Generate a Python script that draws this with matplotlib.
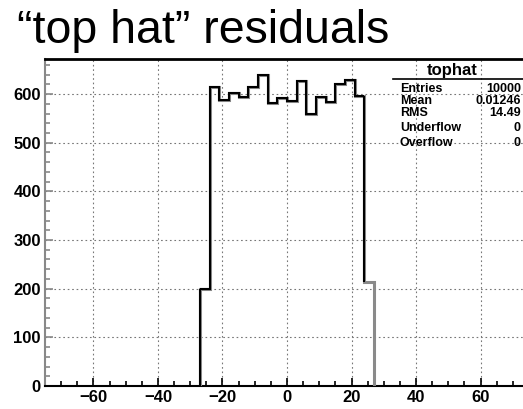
import numpy as np
import matplotlib
matplotlib.use('Agg')
import matplotlib.pyplot as plt
from matplotlib.ticker import MultipleLocator

plt.rcParams['font.family'] = ['Liberation Sans', 'DejaVu Sans']

# histogram: 18 bins of width 3 from -27 to 27
edges = np.arange(-27, 28, 3)
counts = [200, 615, 587, 603, 594, 615, 640, 581, 591,
          585, 626, 560, 593, 584, 621, 628, 596, 213]

stats_title = 'tophat'
stats_labels = ['Entries', 'Mean', 'RMS', 'Underflow', 'Overflow']
stats_values = ['10000', '0.01246', '14.49', '0', '0']

fig = plt.figure(figsize=(5.23, 4.09), dpi=100)
ax = fig.add_axes([45/523, 23/409, 484/523, 327/409])

# grey copy underneath, black histogram on top (all but the last bin)
ax.stairs(counts, edges, color='#8a8a8a', linewidth=2.2, baseline=0, zorder=3)
ax.stairs(counts[:-1], edges[:-1], color='black', linewidth=1.5, baseline=None, zorder=4)
ax.vlines(edges[0], 0, counts[0], color='black', linewidth=1.5, zorder=4)
ax.vlines(edges[-2], counts[-1], counts[-2], color='black', linewidth=1.5, zorder=4)

ax.set_xlim(-75, 75)
ax.set_ylim(0, 672)

ax.xaxis.set_major_locator(MultipleLocator(20))
ax.xaxis.set_minor_locator(MultipleLocator(5))
ax.yaxis.set_major_locator(MultipleLocator(100))
ax.yaxis.set_minor_locator(MultipleLocator(20))

ax.grid(True, which='major', color='#777777', linestyle=(0, (1.5, 2.5)), linewidth=0.8)
ax.set_axisbelow(True)

ax.tick_params(axis='x', which='both', direction='in', color='black', width=1.2, pad=3)
ax.tick_params(axis='x', which='major', length=6)
ax.tick_params(axis='x', which='minor', length=3.5)
ax.tick_params(axis='y', which='both', direction='in', color='#888888', width=1.2, pad=3)
ax.tick_params(axis='y', which='major', length=6)
ax.tick_params(axis='y', which='minor', length=3.5)
for lab in ax.get_xticklabels() + ax.get_yticklabels():
    lab.set_fontsize(12)
    lab.set_fontweight('bold')

ax.spines['top'].set_linewidth(2)
ax.spines['bottom'].set_linewidth(1.5)
ax.spines['left'].set_color('#888888')
ax.spines['left'].set_linewidth(1.5)
ax.spines['right'].set_visible(False)

# stats box (transparent, only title underline)
fig.text(452/523, 1 - 70/409, stats_title, ha='center', va='center',
         fontsize=12, fontweight='bold')
fig.add_artist(plt.Line2D([393/523, 1.0], [1 - 79/409, 1 - 79/409],
                          color='black', linewidth=1.2))
rows_y = [89, 101, 113, 128, 143]
for lab, val, y in zip(stats_labels, stats_values, rows_y):
    fig.text(400/523, 1 - y/409, lab, ha='left', va='center', fontsize=9, fontweight='bold')
    fig.text(521/523, 1 - y/409, val, ha='right', va='center', fontsize=9, fontweight='bold')

fig.text(17/523, 1 - 43/409, '\u201ctop hat\u201d residuals', ha='left', va='baseline',
         fontsize=33.5)

fig.savefig('out.png', dpi=100)
